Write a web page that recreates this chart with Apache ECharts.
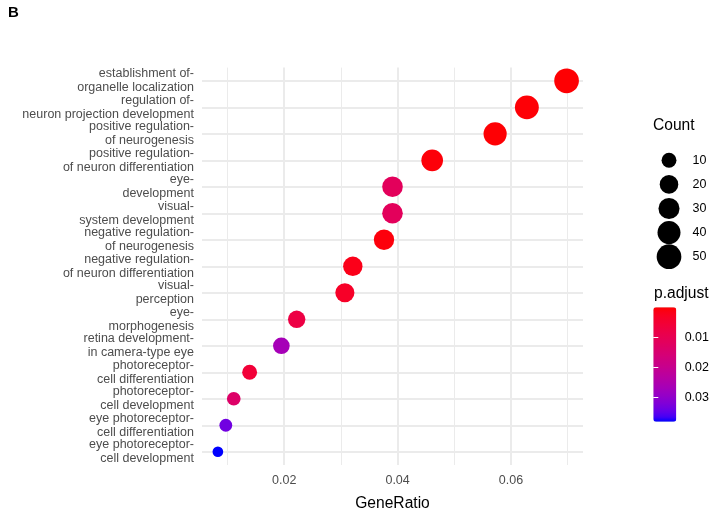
<!DOCTYPE html>
<html><head><meta charset="utf-8">
<script src="https://cdn.jsdelivr.net/npm/echarts@6/dist/echarts.min.js"></script>
<style>html,body{margin:0;padding:0;background:#fff}#c{width:712px;height:517px}</style>
</head><body><div id="c"></div>
<script>
const categories = [
  'establishment of-\norganelle localization',
  'regulation of-\nneuron projection development',
  'positive regulation-\nof neurogenesis',
  'positive regulation-\nof neuron differentiation',
  'eye-\ndevelopment',
  'visual-\nsystem development',
  'negative regulation-\nof neurogenesis',
  'negative regulation-\nof neuron differentiation',
  'visual-\nperception',
  'eye-\nmorphogenesis',
  'retina development-\nin camera-type eye',
  'photoreceptor-\ncell differentiation',
  'photoreceptor-\ncell development',
  'eye photoreceptor-\ncell differentiation',
  'eye photoreceptor-\ncell development'
];
const geneRatio = [0.0698, 0.0628, 0.0572, 0.0461, 0.0391, 0.0391, 0.0376, 0.0321, 0.0307, 0.0222, 0.0195, 0.0139, 0.0111, 0.0097, 0.0083];
const counts = [50, 45, 41, 33, 28, 28, 27, 23, 22, 16, 14, 10, 8, 7, 6];
const pAdjust = [0.0002, 0.0004, 0.0003, 0.0006, 0.0114, 0.0114, 0.0008, 0.0018, 0.0035, 0.0076, 0.0266, 0.0057, 0.0133, 0.0334, 0.0380];
const xMinorTicks = [0.01, 0.03, 0.05, 0.07];
const xMajorTicks = [0.02, 0.04, 0.06];
const countLegend = [10, 20, 30, 40, 50];
const pTicks = [0.01, 0.02, 0.03];

const FONT = "'Liberation Sans', Arial, sans-serif";
const cMin = Math.min(...counts), cMax = Math.max(...counts);
function sizeFor(c) { return 10.7 + 14 * Math.sqrt(Math.max(0, (c - cMin) / (cMax - cMin))); }

// Lab interpolation (like ggplot's gradient)
function toLin(c){c/=255;return c<=0.04045?c/12.92:Math.pow((c+0.055)/1.055,2.4);}
function fromLin(c){c=c<=0.0031308?12.92*c:1.055*Math.pow(c,1/2.4)-0.055;return Math.round(Math.max(0,Math.min(1,c))*255);}
function rgb2lab(r,g,b){r=toLin(r);g=toLin(g);b=toLin(b);
  let X=(0.4124*r+0.3576*g+0.1805*b)/0.95047,Y=(0.2126*r+0.7152*g+0.0722*b),Z=(0.0193*r+0.1192*g+0.9505*b)/1.08883;
  const f=t=>t>0.008856?Math.cbrt(t):7.787*t+16/116;
  const fx=f(X),fy=f(Y),fz=f(Z);return [116*fy-16,500*(fx-fy),200*(fy-fz)];}
function lab2rgb(L,a,bb){const fy=(L+16)/116,fx=fy+a/500,fz=fy-bb/200;
  const fi=t=>t*t*t>0.008856?t*t*t:(t-16/116)/7.787;
  const X=fi(fx)*0.95047,Y=fi(fy),Z=fi(fz)*1.08883;
  const r=3.2406*X-1.5372*Y-0.4986*Z,g=-0.9689*X+1.8758*Y+0.0415*Z,b=0.0557*X-0.2040*Y+1.0570*Z;
  return 'rgb('+fromLin(r)+','+fromLin(g)+','+fromLin(b)+')';}
const labLow = rgb2lab(255,0,0), labHigh = rgb2lab(0,0,255);
const gradient = [];
for (let i=0;i<=24;i++){const t=i/24;gradient.push(lab2rgb(labLow[0]+(labHigh[0]-labLow[0])*t,labLow[1]+(labHigh[1]-labLow[1])*t,labLow[2]+(labHigh[2]-labLow[2])*t));}

const pMax = 0.038;
const chart = echarts.init(document.getElementById('c'), null, {renderer:'canvas'});
chart.setOption({
  animation: false,
  backgroundColor: '#fff',
  textStyle: {fontFamily: FONT},
  grid: [
    {left: 202, top: 67.6, width: 381, height: 403},
    {left: 653.3, top: 307.3, width: 23, height: 114.4},
    {left: 659, top: 148.25, width: 20, height: 120.5}
  ],
  xAxis: [
    {type:'value', gridIndex:0, min:0.0055, max:0.0727, position:'bottom',
     axisLine:{show:false}, axisLabel:{show:false},
     axisTick:{show:false, customValues: xMinorTicks},
     splitLine:{show:true, customValues: xMinorTicks, lineStyle:{color:'#EBEBEB', width:1}}},
    {type:'value', gridIndex:0, min:0.0055, max:0.0727, position:'bottom',
     axisLine:{show:false},
     axisTick:{show:false, customValues: xMajorTicks},
     axisLabel:{show:true, customValues: xMajorTicks, color:'#4D4D4D', fontSize:12.5, fontFamily:FONT, margin:9},
     splitLine:{show:true, customValues: xMajorTicks, lineStyle:{color:'#EBEBEB', width:2}},
     name:'GeneRatio', nameLocation:'middle', nameGap:31,
     nameTextStyle:{color:'#000', fontSize:15.6, fontFamily:FONT}},
    {type:'value', gridIndex:1, min:0, max:1, show:false},
    {type:'value', gridIndex:2, min:0, max:1, show:false}
  ],
  yAxis: [
    {type:'category', gridIndex:0, data:categories, inverse:true,
     axisLine:{show:false}, axisTick:{show:false},
     axisLabel:{interval:0, showMinLabel:true, showMaxLabel:true, hideOverlap:false,
       color:'#4D4D4D', fontSize:12.5, lineHeight:14, fontFamily:FONT, margin:8, align:'right'},
     splitLine:{show:true, alignWithLabel:true, lineStyle:{color:'#EBEBEB', width:2}}},
    {type:'value', gridIndex:1, min:0, max:pMax, inverse:true, position:'right', z:10,
     axisLine:{show:false}, splitLine:{show:false},
     axisTick:{show:true, inside:true, length:5, customValues:pTicks, lineStyle:{color:'#fff', width:1}},
     axisLabel:{show:true, customValues:pTicks, color:'#000', fontSize:12.5, fontFamily:FONT, margin:10}},
    {type:'value', gridIndex:1, min:0, max:pMax, inverse:true, position:'left', z:10,
     axisLine:{show:false}, splitLine:{show:false},
     axisTick:{show:true, inside:true, length:5, customValues:pTicks, lineStyle:{color:'#fff', width:1}},
     axisLabel:{show:false}},
    {type:'category', gridIndex:2, data:countLegend.map(String), inverse:true, position:'right',
     axisLine:{show:false}, axisTick:{show:false}, splitLine:{show:false},
     axisLabel:{interval:0, color:'#000', fontSize:12.5, fontFamily:FONT, margin:13.5, align:'left'}}
  ],
  visualMap: [{
    type:'continuous', min:0, max:pMax, dimension:3, seriesIndex:0,
    inverse:true, orient:'vertical', left:653.3, top:307.3,
    itemWidth:23, itemHeight:114.4, padding:0, calculable:false, text:null,
    inRange:{color:gradient}, hoverLink:false
  }],
  series: [
    {type:'scatter', xAxisIndex:0, yAxisIndex:0, z:10,
     data: categories.map((c,i)=>[geneRatio[i], c, counts[i], pAdjust[i]]),
     symbolSize: v => sizeFor(v[2]), itemStyle:{opacity:1}},
    {type:'scatter', xAxisIndex:3, yAxisIndex:3,
     data: countLegend.map(c=>[0.5, String(c), c]),
     symbolSize: v => sizeFor(v[2]), itemStyle:{color:'#000', opacity:1}}
  ],
  graphic: [
    {type:'text', left:8, top:5, style:{text:'B', font:'bold 15px '+FONT, fill:'#000'}},
    {type:'text', left:653, top:118, style:{text:'Count', font:'15.6px '+FONT, fill:'#000'}},
    {type:'text', left:654, top:286, style:{text:'p.adjust', font:'15.6px '+FONT, fill:'#000'}}
  ]
});
</script></body></html>
